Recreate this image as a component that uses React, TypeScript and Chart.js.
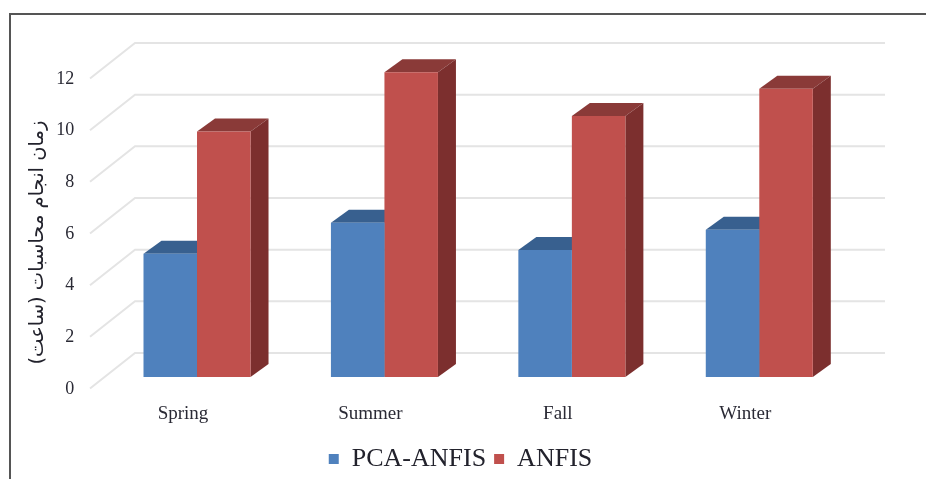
import React, { useEffect, useRef } from "react";
import { Chart, registerables } from "chart.js";

Chart.register(...registerables);

const categories = ["Spring", "Summer", "Fall", "Winter"];
const pcaAnfis = [4.77, 5.97, 4.92, 5.7];
const anfis = [9.5, 11.8, 10.1, 11.16];
const yAxisTitle = "زمان انجام محاسبات (ساعت)";

const SERIF = "'Liberation Serif', serif";
const BAR_DEPTH_X = 18;
const BAR_DEPTH_Y = 13;

const shade: Record<string, { top: string; side: string }> = {
  "#4F81BD": { top: "#38608F", side: "#2F5078" },
  "#C0504D": { top: "#8A3A38", side: "#7C2F2E" },
};

const wallsPlugin = {
  id: "walls",
  beforeDatasetsDraw(chart: any) {
    const { ctx, scales } = chart;
    const y = scales.y;
    ctx.save();
    ctx.strokeStyle = "#E4E4E4";
    ctx.lineWidth = 2;
    for (const t of y.ticks) {
      const p = y.getPixelForValue(t.value);
      ctx.beginPath();
      ctx.moveTo(90, p + 11.5);
      ctx.lineTo(135, p - 24);
      ctx.lineTo(885, p - 24);
      ctx.stroke();
    }
    chart.data.datasets.forEach((ds: any, i: number) => {
      const col = shade[ds.backgroundColor];
      chart.getDatasetMeta(i).data.forEach((el: any) => {
        const { x, y: top, width, base } = el.getProps(["x", "y", "width", "base"], true);
        const l = x - width / 2;
        const r = x + width / 2;
        ctx.fillStyle = col.top;
        ctx.beginPath();
        ctx.moveTo(l, top);
        ctx.lineTo(l + BAR_DEPTH_X, top - BAR_DEPTH_Y);
        ctx.lineTo(r + BAR_DEPTH_X, top - BAR_DEPTH_Y);
        ctx.lineTo(r, top);
        ctx.closePath();
        ctx.fill();
        ctx.fillStyle = col.side;
        ctx.beginPath();
        ctx.moveTo(r, top);
        ctx.lineTo(r + BAR_DEPTH_X, top - BAR_DEPTH_Y);
        ctx.lineTo(r + BAR_DEPTH_X, base - BAR_DEPTH_Y);
        ctx.lineTo(r, base);
        ctx.closePath();
        ctx.fill();
      });
    });
    ctx.restore();
  },
};

export default function App() {
  const ref = useRef<HTMLCanvasElement>(null);
  useEffect(() => {
    const chart = new Chart(ref.current as HTMLCanvasElement, {
      type: "bar",
      plugins: [wallsPlugin],
      data: {
        labels: categories,
        datasets: [
          { label: "PCA-ANFIS", data: pcaAnfis, backgroundColor: "#4F81BD", yAxisID: "y" },
          { label: "ANFIS", data: anfis, backgroundColor: "#C0504D", yAxisID: "y" },
        ],
      },
      options: {
        animation: false,
        responsive: false,
        devicePixelRatio: 1,
        layout: { padding: { left: 24, right: 29, top: 67, bottom: -3 } },
        datasets: { bar: { categoryPercentage: 0.571, barPercentage: 1 } },
        plugins: {
          tooltip: { enabled: false },
          legend: {
            position: "bottom",
            labels: {
              boxWidth: 10,
              boxHeight: 10,
              padding: 8,
              color: "#22222C",
              font: { family: SERIF, size: 26 },
            },
          },
        },
        scales: {
          x: {
            grid: { display: false },
            border: { display: false },
            afterFit: (s: any) => { s.height = 61; },
            ticks: {
              maxRotation: 0,
              padding: 18,
              labelOffset: -14,
              color: "#2A2A35",
              font: { family: SERIF, size: 19 },
            },
          },
          y: {
            min: 0,
            max: 12,
            grid: { display: false },
            border: { display: false },
            afterFit: (s: any) => { s.width = 79.3; },
            ticks: {
              stepSize: 2,
              padding: 21,
              labelOffset: 12,
              color: "#2A2A35",
              font: { family: SERIF, size: 18 },
            },
            title: {
              display: true,
              text: "\u00A0\u00A0" + yAxisTitle,
              align: "start",
              padding: { top: 2, bottom: 0 },
              color: "#22222C",
              font: { family: "'DejaVu Sans', sans-serif", size: 19.5 },
            },
          },
          y2: {
            position: "right",
            display: true,
            grid: { display: false },
            border: { display: false },
            ticks: { display: false },
            afterFit: (s: any) => { s.width = 44; },
          },
        },
      } as any,
    });
    return () => chart.destroy();
  }, []);
  return (
    <div style={{ position: "fixed", left: 0, top: 0, width: 926, height: 479, background: "#fff", overflow: "hidden" }}>
      <canvas ref={ref} width={926} height={479} style={{ display: "block", filter: "blur(0.4px)" }} />
      <div
        style={{
          position: "absolute",
          left: 9,
          top: 13,
          width: 930,
          height: 480,
          borderLeft: "2px solid #555",
          borderTop: "2px solid #555",
        }}
      />
    </div>
  );
}
